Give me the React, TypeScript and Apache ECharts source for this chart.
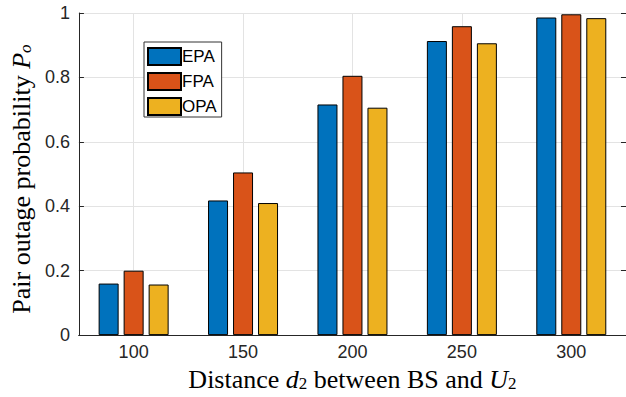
import React, { useEffect, useRef } from "react";
import * as echarts from "echarts";

const categories = ["100", "150", "200", "250", "300"];
const epa = [0.16, 0.418, 0.716, 0.913, 0.986];
const fpa = [0.2, 0.505, 0.805, 0.959, 0.996];
const opa = [0.157, 0.41, 0.706, 0.906, 0.984];
const yTicks = [0, 0.2, 0.4, 0.6, 0.8, 1];

const axisColor = "#262626";
const gridColor = "#e3e3e3";

const titleRich = {
  a: { fontFamily: "Liberation Serif", fontSize: 26, color: "#000", lineHeight: 30, verticalAlign: "bottom" },
  i: { fontFamily: "Liberation Serif", fontSize: 26, fontStyle: "italic", color: "#000", lineHeight: 30, verticalAlign: "bottom" },
  s: { fontFamily: "Liberation Serif", fontSize: 17, color: "#000", lineHeight: 16, verticalAlign: "bottom" },
  si: { fontFamily: "Liberation Serif", fontSize: 17, fontStyle: "italic", color: "#000", lineHeight: 16, verticalAlign: "bottom" },
};

export default function App() {
  const ref = useRef<HTMLDivElement>(null);
  useEffect(() => {
    const chart = echarts.init(ref.current!, null, { renderer: "svg" });
    const barStyle = (c: string) => ({ color: c, borderColor: "#000", borderWidth: 1 });
    chart.setOption({
      animation: false,
      backgroundColor: "#fff",
      grid: { left: 77, right: -1, top: 13, bottom: 60, containLabel: false },
      legend: {
        orient: "vertical",
        left: 144,
        top: 42,
        itemWidth: 33,
        itemHeight: 17,
        itemGap: 6,
        padding: [5, 5, 1, 3],
        backgroundColor: "#fff",
        borderColor: "#333",
        borderWidth: 1,
        icon: "rect",
        textStyle: { fontFamily: "Liberation Sans", fontSize: 17, color: "#000", padding: [0, 0, 0, -4] },
        data: ["EPA", "FPA", "OPA"],
      },
      xAxis: [
        {
          type: "category",
          data: categories,
          axisLine: { lineStyle: { color: axisColor } },
          axisTick: { inside: true, alignWithLabel: true, length: 5, lineStyle: { color: axisColor } },
          axisLabel: { fontFamily: "Liberation Sans", fontSize: 18, color: "#262626", margin: 8 },
          splitLine: { show: true, alignWithLabel: true, lineStyle: { color: gridColor } },
          name: "{a|Distance }{i|d}{s|2}{a| between BS and }{i|U}{s|2}",
          nameLocation: "middle",
          nameGap: 22,
          nameTextStyle: { rich: titleRich },
        },
        {
          type: "category",
          data: categories,
          position: "top",
          axisLine: { lineStyle: { color: axisColor } },
          axisTick: { inside: true, alignWithLabel: true, length: 5, lineStyle: { color: axisColor } },
          axisLabel: { show: false },
          splitLine: { show: false },
        },
      ],
      yAxis: [
        {
          type: "value",
          min: 0,
          max: 1,
          interval: 0.2,
          axisLine: { show: true, lineStyle: { color: axisColor } },
          axisTick: { show: true, inside: true, length: 5, lineStyle: { color: axisColor } },
          axisLabel: {
            fontFamily: "Liberation Sans",
            fontSize: 18,
            color: "#262626",
            margin: 9,
            formatter: (v: number) => (yTicks.includes(Math.round(v * 10) / 10) ? String(Math.round(v * 10) / 10) : ""),
          },
          splitLine: { show: true, lineStyle: { color: gridColor } },
          name: "{a|Pair outage probability }{i|P}{si|o}",
          nameLocation: "middle",
          nameGap: 31,
          nameTextStyle: { rich: titleRich, padding: [0, 10, 0, 0] },
        },
        {
          type: "value",
          min: 0,
          max: 1,
          interval: 0.2,
          position: "right",
          axisLine: { show: true, lineStyle: { color: axisColor } },
          axisTick: { show: true, inside: true, length: 5, lineStyle: { color: axisColor } },
          axisLabel: { show: false },
          splitLine: { show: false },
        },
      ],
      series: [
        { name: "EPA", type: "bar", data: epa, barWidth: 20, barGap: "25%", itemStyle: barStyle("#0072BD") },
        { name: "FPA", type: "bar", data: fpa, barWidth: 20, barGap: "25%", itemStyle: barStyle("#D95319") },
        { name: "OPA", type: "bar", data: opa, barWidth: 20, barGap: "25%", itemStyle: barStyle("#EDB120") },
      ],
    });
    return () => chart.dispose();
  }, []);
  return <div ref={ref} style={{ width: 626, height: 397, position: "absolute", left: 0, top: 0 }} />;
}
